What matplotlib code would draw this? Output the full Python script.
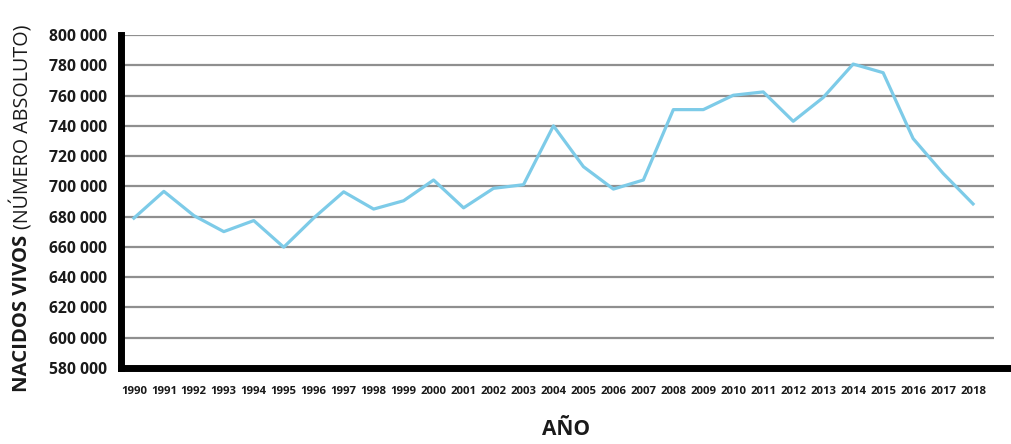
import numpy as np
import matplotlib
matplotlib.use("Agg")
import matplotlib.pyplot as plt

matplotlib.rcParams['font.family'] = ['Open Sans', 'DejaVu Sans']

# births per year
years = np.arange(1990, 2019)
births = [679000, 696700, 680700, 670100, 677400, 659800, 679100, 696400,
          685000, 690500, 704200, 685800, 698700, 701100, 740000, 713000,
          698200, 704200, 750700, 750700, 760200, 762400, 743000, 758700,
          780800, 775100, 731600, 708600, 688400]
yticks = np.arange(580000, 800001, 20000)
ytick_labels = ['{:,}'.format(v).replace(',', ' ') for v in yticks]

fig = plt.figure(figsize=(10.12, 4.44), dpi=100)
ax = fig.add_axes([121 / 1012, 76 / 444, 891 / 1012, 333 / 444])

x0, x1 = 1989.57, 2019.3
ax.set_xlim(x0, x1)
ax.set_ylim(580000, 800000)

# horizontal grid stops short of the right edge
ax.hlines(yticks[1:], x0, 2018.7, color='#8f8f8f', linewidth=1.6, zorder=1)

ax.plot(years, births, color='#7dcbe8', linewidth=2.3, zorder=3)

for side in ['top', 'right']:
    ax.spines[side].set_visible(False)
for side in ['left', 'bottom']:
    ax.spines[side].set_linewidth(5)
    ax.spines[side].set_color('black')
    ax.spines[side].set_capstyle('projecting')

ax.set_yticks(yticks)
ax.set_yticklabels(ytick_labels, fontsize=11.3, fontweight='bold', color='#1a1a1a')
ax.set_xticks(years)
ax.set_xticklabels([str(y) for y in years], fontsize=8.2, fontweight='bold', color='#1a1a1a')
ax.tick_params(axis='y', length=0, pad=10)
ax.tick_params(axis='x', length=0, pad=13)

ax.set_xlabel('AÑO', fontsize=15, fontweight='bold', color='#1a1a1a', labelpad=16)

# y label: bold part followed by regular part
t1 = fig.text(22 / 1012, 1 - 392 / 444, 'NACIDOS VIVOS', rotation=90,
              fontsize=14.6, fontweight='bold', color='#1a1a1a',
              ha='center', va='bottom')
fig.canvas.draw()
bb = t1.get_window_extent()
fig.text(22 / 1012, (bb.y1 + 6) / 444, '(NÚMERO ABSOLUTO)', rotation=90,
         fontsize=14.2, color='#1a1a1a', ha='center', va='bottom')

fig.savefig('out.png', dpi=100)
